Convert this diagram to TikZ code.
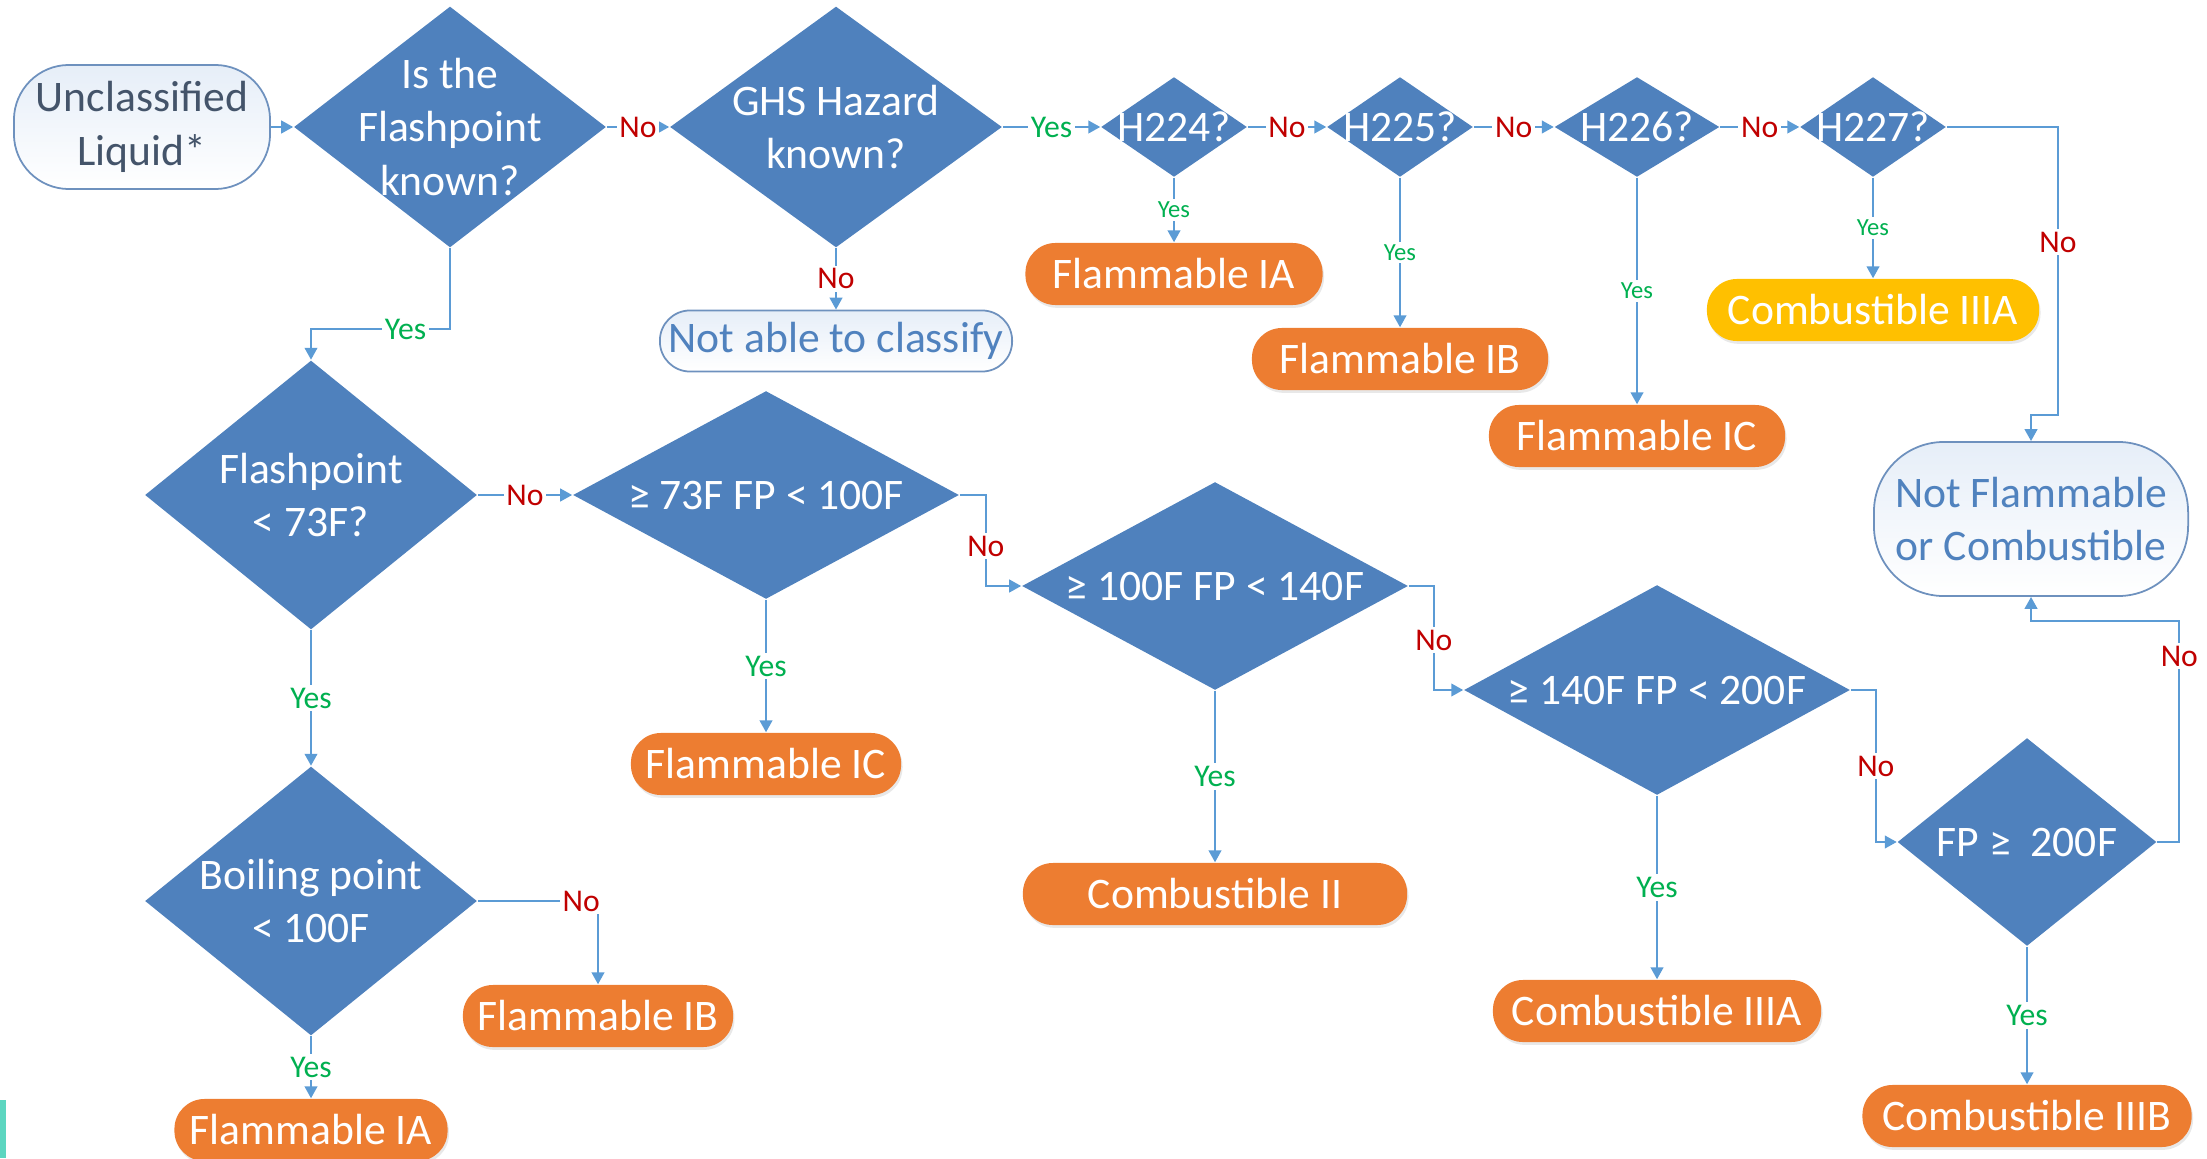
\documentclass[tikz,border=0pt]{standalone}
\usepackage{fontspec}
\setmainfont{Carlito}
\usepackage{tikz}
\usetikzlibrary{arrows.meta, shapes.geometric, shadows, calc}

\definecolor{diablue}{RGB}{79,129,189}
\definecolor{outorange}{RGB}{237,125,49}
\definecolor{outyellow}{RGB}{255,192,0}
\definecolor{linkblue}{RGB}{91,155,213}
\definecolor{nored}{RGB}{192,0,0}
\definecolor{yesgreen}{RGB}{0,176,80}
\definecolor{termline}{RGB}{110,145,190}
\definecolor{termdark}{RGB}{68,84,106}
\definecolor{termblue}{RGB}{80,130,190}
\definecolor{termfill}{RGB}{230,238,248}
\definecolor{edgeteal}{RGB}{92,214,192}

\tikzset{
  decision/.style={diamond, fill=diablue, inner sep=0pt},
  dtext/.style={text=white, align=center, inner sep=0pt,
    font=\fontsize{12.4}{15.2}\selectfont},
  outcome/.style={rectangle, rounded corners=0.3cm, fill=outorange, text=white,
    minimum height=0.62cm, inner sep=0pt, font=\fontsize{12.4}{15}\selectfont,
    drop shadow={opacity=0.18, shadow xshift=0.4pt, shadow yshift=-0.8pt}},
  terminal/.style={rectangle, draw=termline, line width=0.5pt, top color=termfill,
    bottom color=white, inner sep=0pt, align=center,
    font=\fontsize{12.4}{15.2}\selectfont},
  flow/.style={draw=linkblue, line width=0.6pt,
    -{Triangle[length=3.4pt,width=3.6pt]}},
  lbl/.style={fill=white, inner sep=0.8pt, font=\fontsize{9}{10}\selectfont},
  yeslbl/.style={lbl, text=yesgreen},
  nolbl/.style={lbl, text=nored},
  yessmall/.style={yeslbl, font=\fontsize{7}{8}\selectfont}
}

\begin{document}
\begin{tikzpicture}[x=0.01cm, y=-0.01cm]
\useasboundingbox (0,0) rectangle (2207,1158);
\fill[edgeteal] (0,1100) rectangle (6,1158);

\node[terminal, text=termdark, minimum width=2.56cm, minimum height=1.24cm,
  rounded corners=0.55cm] (unc) at (142,127) {Unclassified\\Liquid*};
\node[decision, minimum width=3.12cm, minimum height=2.41cm,
  label={[dtext]center:Is the\\Flashpoint\\known?}] (q1) at (450,127) {};
\node[decision, minimum width=3.32cm, minimum height=2.41cm,
  label={[dtext]center:GHS Hazard\\known?}] (ghs) at (836,127) {};
\node[decision, minimum width=1.46cm, minimum height=1.0cm,
  label={[dtext]center:H224?}] (h224) at (1174,127) {};
\node[decision, minimum width=1.46cm, minimum height=1.0cm,
  label={[dtext]center:H225?}] (h225) at (1400,127) {};
\node[decision, minimum width=1.65cm, minimum height=1.0cm,
  label={[dtext]center:H226?}] (h226) at (1637,127) {};
\node[decision, minimum width=1.46cm, minimum height=1.0cm,
  label={[dtext]center:H227?}] (h227) at (1873,127) {};

\node[outcome, minimum width=2.97cm] (fIAt) at (1174,274) {Flammable IA};
\node[outcome, minimum width=2.96cm] (fIBt) at (1400,359) {Flammable IB};
\node[outcome, minimum width=2.96cm] (fICt) at (1637,436) {Flammable IC};
\node[outcome, fill=outyellow, minimum width=3.32cm] (cIIIAy) at (1873,310)
  {Combustible IIIA};
\node[terminal, text=termblue, minimum width=3.52cm, minimum height=0.61cm,
  rounded corners=0.3cm] (nac) at (836,341) {Not able to classify};
\node[terminal, text=termblue, minimum width=3.14cm, minimum height=1.54cm,
  rounded corners=0.7cm] (nfc) at (2031,519) {Not Flammable\\or Combustible};

\node[decision, minimum width=3.32cm, minimum height=2.69cm,
  label={[dtext]center:Flashpoint\\< 73F?}] (q73) at (311,495) {};
\node[decision, minimum width=3.86cm, minimum height=2.08cm,
  label={[dtext]center:≥ 73F FP < 100F}] (q100) at (766,495) {};
\node[decision, minimum width=3.86cm, minimum height=2.08cm,
  label={[dtext]center:≥ 100F FP < 140F}] (q140) at (1215,586) {};
\node[decision, minimum width=3.86cm, minimum height=2.10cm,
  label={[dtext]center:≥ 140F FP < 200F}] (q200) at (1657,690) {};
\node[decision, minimum width=2.59cm, minimum height=2.08cm,
  label={[dtext]center:FP ≥\ \ 200F}] (qge) at (2027,842) {};
\node[decision, minimum width=3.32cm, minimum height=2.69cm,
  label={[dtext]center:Boiling point\\< 100F}] (qbp) at (311,901) {};

\node[outcome, minimum width=2.70cm] (fICm) at (766,764) {Flammable IC};
\node[outcome, minimum width=3.84cm] (cII) at (1215,894) {Combustible II};
\node[outcome, minimum width=3.28cm] (cIIIA) at (1657,1011) {Combustible IIIA};
\node[outcome, minimum width=3.29cm] (cIIIB) at (2027,1116) {Combustible IIIB};
\node[outcome, minimum width=2.70cm] (fIBb) at (598,1016) {Flammable IB};
\node[outcome, minimum width=2.73cm] (fIAb) at (311,1130) {Flammable IA};

\draw[flow] (unc) -- (q1);
\draw[flow] (q1) -- node[nolbl] {No} (ghs);
\draw[flow] (ghs) -- node[yeslbl] {Yes} (h224);
\draw[flow] (h224) -- node[nolbl] {No} (h225);
\draw[flow] (h225) -- node[nolbl] {No} (h226);
\draw[flow] (h226) -- node[nolbl] {No} (h227);
\draw[flow] (ghs) -- node[nolbl] {No} (nac);
\draw[flow] (h224) -- node[yessmall] {Yes} (fIAt);
\draw[flow] (h225) -- node[yessmall] {Yes} (fIBt);
\draw[flow] (h226) -- node[yessmall] {Yes} (fICt);
\draw[flow] (h227) -- node[yessmall] {Yes} (cIIIAy);
\draw[flow] (h227.east) -| node[nolbl, pos=0.7] {No} (2058,415) -| (nfc.north);

\draw[flow] (q1.south) |- node[yeslbl, pos=0.66] {Yes} (q73.north |- 0,329)
  -- (q73.north);
\draw[flow] (q73) -- node[nolbl] {No} (q100);
\draw[flow] (q73) -- node[yeslbl] {Yes} (qbp);
\draw[flow] (q100) -- node[yeslbl] {Yes} (fICm);
\draw[flow] (q100.east) -- ++(26,0) |- node[nolbl, pos=0.28] {No} (q140.west);
\draw[flow] (q140) -- node[yeslbl] {Yes} (cII);
\draw[flow] (q140.east) -- ++(25,0) |- node[nolbl, pos=0.26] {No} (q200.west);
\draw[flow] (q200) -- node[yeslbl] {Yes} (cIIIA);
\draw[flow] (q200.east) -- ++(25,0) |- node[nolbl, pos=0.25] {No} (qge.west);
\draw[flow] (qge) -- node[yeslbl] {Yes} (cIIIB);
\draw[flow] (qge.east) -- ++(22,0) |- node[nolbl, pos=0.42] {No}
  (nfc.south |- 0,621) -- (nfc.south);
\draw[flow] (qbp.east) -| node[nolbl, pos=0.43] {No} (fIBb.north);
\draw[flow] (qbp) -- node[yeslbl] {Yes} (fIAb);
\end{tikzpicture}
\end{document}
